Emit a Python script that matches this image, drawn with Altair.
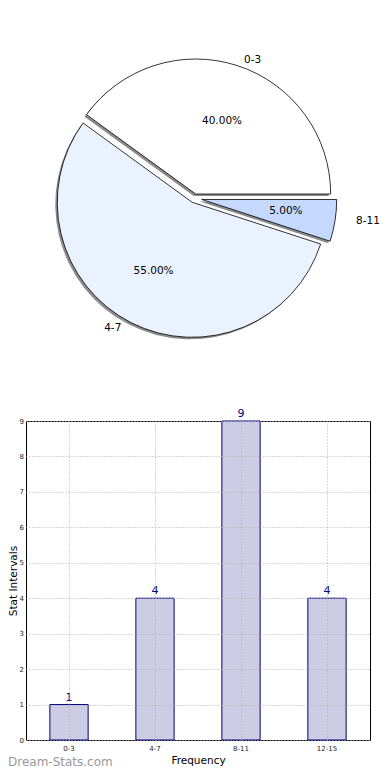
import altair as alt
import pandas as pd

# ---- data ----
pie_labels = ["0-3", "4-7", "8-11"]
pie_values = [40, 55, 5]
bar_categories = ["0-3", "4-7", "8-11", "12-15"]
bar_counts = [1, 4, 9, 4]
watermark = ["Dream-Stats.com"]

pie_df = pd.DataFrame({"label": pie_labels, "value": pie_values,
                       "ord": list(range(len(pie_labels)))})
bar_df = pd.DataFrame({"cat": bar_categories, "count": bar_counts})
wm_df = pd.DataFrame({"t": watermark})

# ---- layout / style ----
PLOT_LEFT = 26              # page x of the bar plot's left edge
W, H = 344, 319
CX, CY = 194.3 - PLOT_LEFT, -222.7   # pie centre relative to the bar plot area
R = 135
RX, RY = 142, 128
explode = [4.5, 4.5, 7.5]
FONT = "DejaVu Sans"
pie_colors = ["#ffffff", "#ebf2ff", "#c5d9ff"]

base_pie = (
    alt.Chart(pie_df)
    .transform_window(cum="sum(value)", sort=[alt.SortField("ord")], frame=[None, 0])
    .transform_joinaggregate(total="sum(value)")
    .transform_calculate(a0="2*PI*(datum.cum - datum.value)/datum.total")
    .transform_calculate(a1="2*PI*datum.cum/datum.total")
    .transform_calculate(am="(datum.a0 + datum.a1)/2")
    .transform_calculate(t0="PI/2 - datum.a1")
    .transform_calculate(t1="PI/2 - datum.a0")
    .transform_calculate(ex=f"{explode}[datum.ord]")
    .transform_calculate(cx=f"{CX} + datum.ex*cos(datum.am)")
    .transform_calculate(cy=f"{CY} - datum.ex*sin(datum.am)")
    .transform_calculate(lx=f"datum.cx + {1.1*RX}*cos(datum.am)")
    .transform_calculate(ly=f"datum.cy - {1.1*RY}*sin(datum.am)")
    .transform_calculate(px=f"datum.cx + {0.6*RX}*cos(datum.am)")
    .transform_calculate(py=f"datum.cy - {0.6*RY}*sin(datum.am)")
    .transform_calculate(pct="format(100*datum.value/datum.total, '.2f') + '%'")
)

xy = dict(
    x=alt.X("cx:Q", scale=None, axis=None),
    y=alt.Y("cy:Q", scale=None, axis=None),
)

shadow = base_pie.mark_arc(radius=R, fill="#8c8c8c", xOffset=-2, yOffset=2).encode(
    theta=alt.Theta("t0:Q", scale=None), theta2=alt.Theta2("t1:Q"), **xy
)
wedges = base_pie.mark_arc(radius=R, stroke="black", strokeWidth=0.8).encode(
    theta=alt.Theta("t0:Q", scale=None), theta2=alt.Theta2("t1:Q"),
    fill=alt.Fill("label:N", scale=alt.Scale(domain=pie_labels, range=pie_colors), legend=None),
    **xy
)
lab_right = base_pie.transform_filter("cos(datum.am) >= 0").mark_text(
    align="left", baseline="middle", font=FONT, fontSize=10.5, color="black"
).encode(x=alt.X("lx:Q", scale=None, axis=None), y=alt.Y("ly:Q", scale=None, axis=None), text="label:N")
lab_left = base_pie.transform_filter("cos(datum.am) < 0").mark_text(
    align="right", baseline="middle", font=FONT, fontSize=10.5, color="black"
).encode(x=alt.X("lx:Q", scale=None, axis=None), y=alt.Y("ly:Q", scale=None, axis=None), text="label:N")
pcts = base_pie.mark_text(
    align="center", baseline="middle", font=FONT, fontSize=10.5, color="black"
).encode(x=alt.X("px:Q", scale=None, axis=None), y=alt.Y("py:Q", scale=None, axis=None), text="pct:N")

pie = alt.layer(shadow, wedges, lab_right, lab_left, pcts)

grid_style = dict(grid=True, gridColor="#b0b0b0", gridDash=[1, 2], gridWidth=1,
                  domain=False, ticks=False, zindex=1,
                  labelFont=FONT, labelFontSize=7, labelColor="#222222",
                  labelOverlap=False,
                  titleFont=FONT, titleFontSize=10.5, titleFontWeight="normal",
                  titleColor="black")

x_enc = alt.X("cat:N", sort=bar_categories,
              scale=alt.Scale(paddingInner=0.555, paddingOuter=0.2775),
              axis=alt.Axis(title="Frequency", labelAngle=0, labelPadding=4,
                            bandPosition=0.5, titleY=15, titleBaseline="top",
                            titleAlign="center", **grid_style))
y_enc = alt.Y("count:Q", scale=alt.Scale(domain=[0, 9], nice=False),
              axis=alt.Axis(title="Stat Intervals", values=list(range(10)),
                            tickCount=10, format="d",
                            labelPadding=2.5, titleX=-9.5, titleY=H / 2,
                            titleAlign="center", titleBaseline="alphabetic",
                            **grid_style))

bars = alt.Chart(bar_df).mark_bar(fill="#ccccE5", stroke="#000080", strokeWidth=1).encode(
    x=x_enc, y=y_enc,
)
bar_text = alt.Chart(bar_df).mark_text(
    baseline="alphabetic", dy=-4, color="#000080", font=FONT, fontSize=11
).encode(x=x_enc, y=y_enc, text="count:Q")

wm = alt.Chart(wm_df).mark_text(
    align="left", baseline="alphabetic", color="#999999", font=FONT, fontSize=12
).encode(x=alt.value(8 - PLOT_LEFT), y=alt.value(345), text="t:N")

bar_layer = alt.layer(bars, bar_text, wm)

chart = (
    alt.layer(bar_layer, pie)
    .resolve_scale(x="independent", y="independent")
    .properties(
        width=W, height=H,
        autosize=alt.AutoSizeParams(type="none"),
        padding={"left": PLOT_LEFT - 8, "top": 413, "right": 374 - (PLOT_LEFT - 8) - W,
                 "bottom": 764 - 413 - H},
    )
    .configure(font=FONT)
    .configure_view(stroke="black", strokeWidth=1)
)

chart.save("out.html", embed_options={"renderer": "svg", "actions": False})
